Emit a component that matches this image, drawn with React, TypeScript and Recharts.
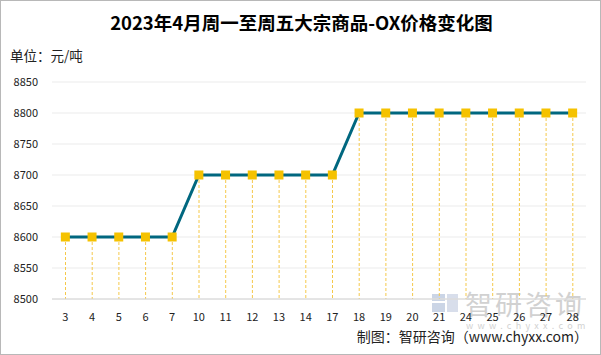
import { ComposedChart, Line, Bar, XAxis, YAxis, CartesianGrid } from "recharts";

const days = ["3", "4", "5", "6", "7", "10", "11", "12", "13", "14", "17", "18", "19", "20", "21", "24", "25", "26", "27", "28"];
const prices = [8600, 8600, 8600, 8600, 8600, 8700, 8700, 8700, 8700, 8700, 8700, 8800, 8800, 8800, 8800, 8800, 8800, 8800, 8800, 8800];
const yTicks = [8500, 8550, 8600, 8650, 8700, 8750, 8800, 8850];

const data = days.map((d, i) => ({ day: d, price: prices[i] }));

const cjk = '"Noto Sans CJK SC", "Noto Sans", sans-serif';

// 黄色方块标记
const SquareDot = (props: any) => {
  const { cx, cy } = props;
  if (cx == null || cy == null) return null;
  return <rect x={cx - 4.5} y={cy - 4.5} width={9} height={9} fill="#F5C200" />;
};

// 虚线垂线（从数据点到横轴）
const DropLine = (props: any) => {
  const { x, y, width, height } = props;
  const mx = x + width / 2;
  return <line x1={mx} y1={y} x2={mx} y2={y + height} stroke="#F5C94A" strokeWidth={1} strokeDasharray="3 2" />;
};

export default function App() {
  return (
    <div
      style={{
        position: "absolute",
        left: 0,
        top: 0,
        width: 601,
        height: 355,
        boxSizing: "border-box",
        border: "1px solid #b8b8b8",
        background: "#fff",
        fontFamily: cjk,
        overflow: "hidden",
      }}
    >
      <div
        style={{
          position: "absolute",
          top: 8,
          left: 0,
          width: 601,
          textAlign: "center",
          fontSize: 18.5,
          fontWeight: 700,
          color: "#000",
        }}
      >
        2023年4月周一至周五大宗商品-OX价格变化图
      </div>
      <div style={{ position: "absolute", top: 44, left: 9, fontSize: 13.5, color: "#222" }}>单位：元/吨</div>

      {/* 水印 */}
      <svg width={28} height={18} style={{ position: "absolute", left: 431, top: 293, opacity: 0.45 }}>
        <rect x={0} y={0} width={13} height={7} fill="#8ea3c8" />
        <rect x={0} y={9} width={13} height={9} fill="#8ea3c8" />
        <rect x={15} y={0} width={11} height={18} fill="#a9b8d4" />
      </svg>
      <div
        style={{
          position: "absolute",
          top: 285,
          left: 464,
          fontSize: 27,
          lineHeight: "36px",
          color: "#9a9a9a",
          opacity: 0.45,
          letterSpacing: 3,
        }}
      >
        智研咨询
      </div>
      <div
        style={{
          position: "absolute",
          top: 319,
          left: 465,
          fontSize: 9,
          lineHeight: "12px",
          color: "#9a9a9a",
          opacity: 0.45,
          letterSpacing: 4.3,
        }}
      >
        www.chyxx.com
      </div>

      <div style={{ position: "absolute", top: 325, right: 12, fontSize: 14, color: "#222" }}>
        制图：智研咨询（www.chyxx.com）
      </div>

      <ComposedChart
        width={601}
        height={355}
        data={data}
        margin={{ top: 82, right: 15, left: 7, bottom: 36 }}
        style={{ position: "absolute", left: -1, top: -1 }}
      >
        <CartesianGrid vertical={false} stroke="#ebebeb" />
        <XAxis
          dataKey="day"
          height={20}
          tickLine={false}
          axisLine={{ stroke: "#d4d4d4" }}
          tick={{ fontSize: 11, fill: "#222", fontFamily: cjk }}
          tickMargin={8}
          interval={0}
        />
        <YAxis
          domain={[8500, 8850]}
          ticks={yTicks}
          width={45}
          axisLine={false}
          tickLine={false}
          tick={{ fontSize: 11, fill: "#222", fontFamily: cjk }}
          tickMargin={8}
          allowDataOverflow
        />
        <Bar dataKey="price" barSize={1} shape={DropLine} isAnimationActive={false} />
        <Line
          dataKey="price"
          type="linear"
          stroke="#00677F"
          strokeWidth={3}
          dot={SquareDot}
          activeDot={false}
          isAnimationActive={false}
        />
      </ComposedChart>
    </div>
  );
}
